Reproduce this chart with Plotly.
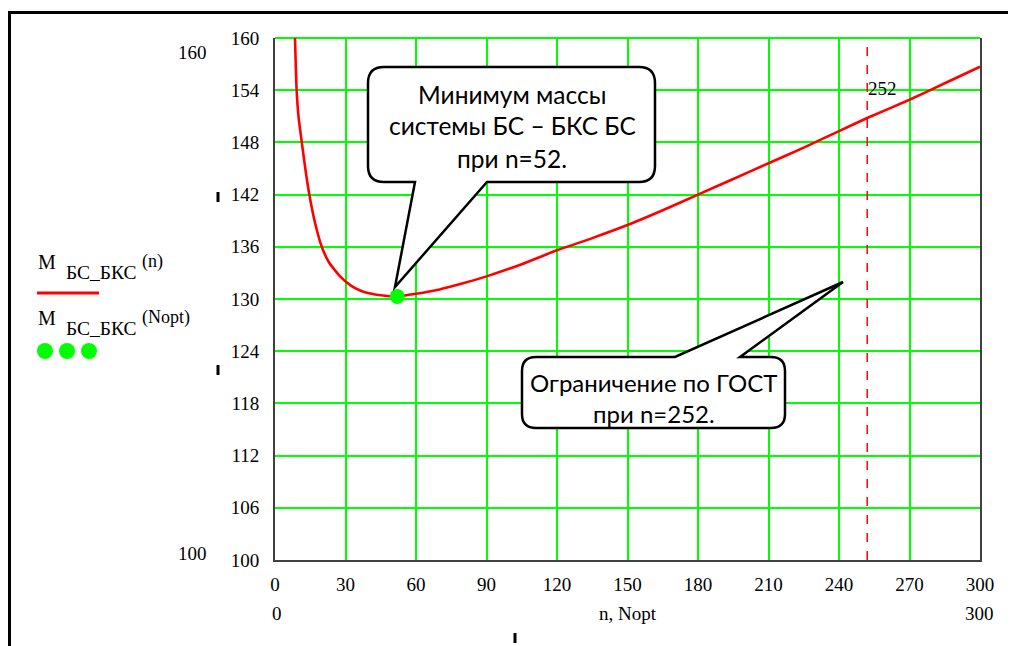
import plotly.graph_objects as go

# ---------------- data ----------------
n_vals = [8.5, 9.2, 10, 11.4, 13, 14.6, 17, 19.9, 23, 27.7, 32, 36, 40, 46, 52,
          60, 70, 80, 90, 105, 120, 135, 150, 165, 180, 195, 210, 225, 240,
          252, 270, 285, 300]
m_vals = [160, 154, 151, 148, 144.8, 142, 138.8, 136, 134.2, 132.6, 131.6, 131,
          130.65, 130.4, 130.3, 130.6, 131.1, 131.8, 132.6, 134, 135.6, 137,
          138.5, 140.2, 142, 143.8, 145.6, 147.4, 149.3, 150.8, 152.9, 154.8, 156.7]
n_opt = [52]
m_opt = [130.3]
n_gost = 252
x_ticks = list(range(0, 301, 30))
y_ticks = list(range(100, 161, 6))

# ---------------- layout geometry ----------------
W_FIG, H_FIG = 1016, 646
OFF = 8  # page body margin
L, R, T, B = 275, 980, 38, 560
PW, PH = R - L, B - T


def px(x):
    return (x - L) / PW


def py(y):
    return (B - y) / PH


def path_from(points):
    s = ""
    for cmd, pts in points:
        s += cmd + " ".join(f"{px(a):.5f},{py(b):.5f}" for a, b in pts) + " "
    return s + "Z"


def callout(x0, y0, x1, y1, r, tail, side):
    a, b, tip = tail
    pts = [("M", [(x0 + r, y0)])]
    if side == "top":
        pts += [("L", [(a, y0)]), ("L", [tip]), ("L", [(b, y0)])]
    pts += [("L", [(x1 - r, y0)]), ("Q", [(x1, y0), (x1, y0 + r)]),
            ("L", [(x1, y1 - r)]), ("Q", [(x1, y1), (x1 - r, y1)])]
    if side == "bottom":
        pts += [("L", [(b, y1)]), ("L", [tip]), ("L", [(a, y1)])]
    pts += [("L", [(x0 + r, y1)]), ("Q", [(x0, y1), (x0, y1 - r)]),
            ("L", [(x0, y0 + r)]), ("Q", [(x0, y0), (x0 + r, y0)])]
    return path_from(pts)


SERIF = "Liberation Serif"
SANS = "Lato"
GREEN = "#00ff00"

fig = go.Figure()
fig.add_trace(go.Scatter(x=n_vals, y=m_vals, mode="lines",
                         line=dict(color="#ff0000", width=2.6, shape="spline", smoothing=0.5),
                         hoverinfo="skip", showlegend=False))
fig.add_trace(go.Scatter(x=n_opt, y=m_opt, mode="markers",
                         marker=dict(color=GREEN, size=15, line=dict(width=0)),
                         hoverinfo="skip", showlegend=False))
fig.add_trace(go.Scatter(x=[n_gost, n_gost], y=[y_ticks[0], y_ticks[-1]], mode="lines",
                         line=dict(color="#ff0000", width=1.5, dash="dash"),
                         hoverinfo="skip", showlegend=False))

shapes = []
shapes.append(dict(type="line", xref="paper", yref="paper", x0=px(9.5), x1=px(1040),
                   y0=py(12.5), y1=py(12.5), line=dict(color="#000", width=3)))
shapes.append(dict(type="line", xref="paper", yref="paper", x0=px(9.5), x1=px(9.5),
                   y0=py(11), y1=py(680), line=dict(color="#000", width=3)))
for (mx, my) in [(218, 197), (218, 370), (515, 638)]:
    shapes.append(dict(type="rect", xref="paper", yref="paper", x0=px(mx - 1.5), x1=px(mx + 1.5),
                       y0=py(my - 5), y1=py(my + 5), fillcolor="#000", line=dict(width=0)))
shapes.append(dict(type="line", xref="paper", yref="paper", x0=0, x1=1, y0=1, y1=1,
                   line=dict(color=GREEN, width=2), layer="below"))
shapes.append(dict(type="line", xref="paper", yref="paper", x0=px(37), x1=px(99),
                   y0=py(293), y1=py(293), line=dict(color="#ff0000", width=3)))
for cx in [45, 67, 89]:
    shapes.append(dict(type="circle", xref="paper", yref="paper", x0=px(cx - 8), x1=px(cx + 8),
                       y0=py(351 - 8), y1=py(351 + 8), fillcolor=GREEN, line=dict(width=0)))
shapes.append(dict(type="path", xref="paper", yref="paper",
                   path=callout(368, 67, 655, 182, 16, (415, 487, (395, 287)), "bottom"),
                   fillcolor="#ffffff", line=dict(color="#000", width=2.5), layer="above"))
shapes.append(dict(type="path", xref="paper", yref="paper",
                   path=callout(522, 357, 785, 428, 14, (675, 740, (843, 282)), "top"),
                   fillcolor="#ffffff", line=dict(color="#000", width=2.5), layer="above"))

ann = []


def text(x, y, s, size, family=SERIF, xanchor="center", color="#000"):
    ann.append(dict(xref="paper", yref="paper", x=px(x), y=py(y), text=s, showarrow=False,
                    xanchor=xanchor, yanchor="middle", font=dict(family=family, size=size, color=color)))


text(192, 52, "160", 19)
text(192, 553, "100", 19)
text(277, 613, "0", 19)
text(979, 613, "300", 19)
text(628, 613, "n, Nopt", 19)
text(866, 88, "252", 19, xanchor="left")
# legend labels
text(36, 262, "M", 20, xanchor="left")
text(64, 272, "БС_БКС", 19.5, xanchor="left")
text(140, 261, "(n)", 18, xanchor="left")
text(36, 318, "M", 20, xanchor="left")
text(64, 328, "БС_БКС", 19.5, xanchor="left")
text(140, 317, "(Nopt)", 18, xanchor="left")
# callout texts
text(512, 94, "Минимум массы", 24.5, SANS)
text(512, 126, "системы БС – БКС БС", 24.5, SANS)
text(512, 158, "при n=52.", 24.5, SANS)
text(654, 382, "Ограничение по ГОСТ", 24, SANS)
text(654, 413, "при n=252.", 24, SANS)

fig.update_layout(
    width=W_FIG, height=H_FIG, autosize=False,
    margin=dict(l=L - OFF, r=W_FIG - (R - OFF), t=T - OFF, b=H_FIG - (B - OFF)),
    paper_bgcolor="#ffffff", plot_bgcolor="#ffffff",
    shapes=shapes, annotations=ann,
    xaxis=dict(range=[0, 300], tickvals=x_ticks, showgrid=True, gridcolor=GREEN, gridwidth=1.6,
               zeroline=False, showline=True, linecolor="#404040", linewidth=2, mirror=False,
               ticks="", ticklabelstandoff=6,
               tickfont=dict(family=SERIF, size=19, color="#000")),
    yaxis=dict(range=[100, 160], tickvals=y_ticks, showgrid=True, gridcolor=GREEN, gridwidth=1.6,
               zeroline=False, showline=True, linecolor="#404040", linewidth=2, mirror=True,
               ticks="", ticklabelstandoff=10,
               tickfont=dict(family=SERIF, size=19, color="#000")),
)

fig.write_html("out.html")
